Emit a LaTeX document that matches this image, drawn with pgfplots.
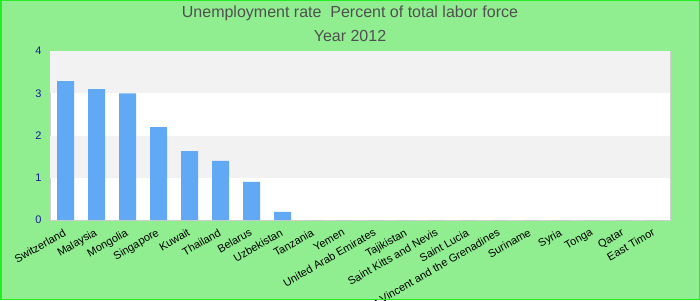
\documentclass[border=0pt]{standalone}
\usepackage{pgfplots}
\pgfplotsset{compat=1.18}
\usepackage{fontspec}
\setmainfont{Liberation Sans}
\definecolor{bg}{HTML}{90EE90}
\definecolor{barc}{HTML}{61A8F5}
\definecolor{band}{HTML}{F2F2F2}
\definecolor{ytc}{HTML}{1A1A9A}
\definecolor{titc}{HTML}{505050}
\definecolor{frame}{HTML}{D0D0D0}
\definecolor{bord}{HTML}{22EE22}
\begin{document}
\begin{tikzpicture}[x=1pt,y=1pt]
\clip (0,0) rectangle (700,300);
\fill[bg] (0,0) rectangle (700,300);
\node[anchor=base, font=\fontsize{16}{18}\selectfont, text=titc] at (350,282) {Unemployment rate\ \ Percent of total labor force};
\node[anchor=base, font=\fontsize{16}{18}\selectfont, text=titc] at (350,258) {Year 2012};
\begin{axis}[
  at={(50pt,80pt)}, anchor=south west,
  width=620pt, height=169pt, scale only axis,
  xmin=-0.5, xmax=19.5, ymin=0, ymax=4,
  ytick={0,1,2,3,4},
  xtick={0,...,19},
  xticklabels={Switzerland,Malaysia,Mongolia,Singapore,Kuwait,Thailand,Belarus,Uzbekistan,Tanzania,Yemen,United Arab Emirates,Tajikistan,Saint Kitts and Nevis,Saint Lucia,Saint Vincent and the Grenadines,Suriname,Syria,Tonga,Qatar,East Timor},
  xticklabel style={rotate=30, anchor=north east, font=\fontsize{11}{12}\selectfont, text=black, xshift=-3pt, yshift=-2pt},
  yticklabel style={font=\fontsize{11}{12}\selectfont, text=ytc, xshift=-5pt},
  /pgf/number format/assume math mode=true,
  major tick length=0pt,
  axis line style={draw=frame},
  axis background/.style={fill=white},
  ybar, bar width=17pt,
]
\fill[band] (axis cs:-0.5,3) rectangle (axis cs:19.5,4);
\fill[band] (axis cs:-0.5,1) rectangle (axis cs:19.5,2);
\addplot[fill=barc, draw=none, bar shift=0pt] coordinates {
(0,3.29) (1,3.10) (2,3.00) (3,2.20) (4,1.63) (5,1.40) (6,0.90) (7,0.19)
(8,0) (9,0) (10,0) (11,0) (12,0) (13,0) (14,0) (15,0) (16,0) (17,0) (18,0) (19,0)};
\end{axis}
\draw[bord, line width=1.5pt] (0.75,0.75) rectangle (699.25,299.25);
\end{tikzpicture}
\end{document}
